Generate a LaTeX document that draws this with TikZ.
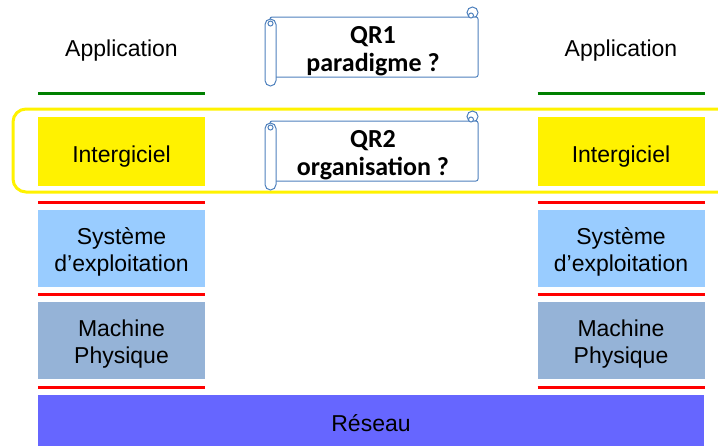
\documentclass[tikz,border=0pt]{standalone}
\usepackage{fontspec}
\setmainfont{Liberation Sans}
\newfontfamily\qrfont{Carlito}
\definecolor{osblue}{RGB}{153,204,255}
\definecolor{hwblue}{RGB}{149,179,215}
\definecolor{netblue}{RGB}{102,102,255}
\definecolor{apigreen}{RGB}{0,128,0}
\definecolor{scrollblue}{RGB}{79,129,189}
\newcommand{\toprow}{\rule{0pt}{23.5pt}}
\tikzset{
  layer/.style={minimum width=167pt, inner sep=0pt, align=center,
    font=\fontsize{23}{27}\selectfont},
  oneline/.style={text depth=0pt},
  iface/.style={line width=3pt},
  scrollpart/.style={draw=scrollblue, fill=white, line width=1pt},
  qrtext/.style={align=center, font=\qrfont\bfseries\fontsize{26}{28}\selectfont}
}
\begin{document}
\begin{tikzpicture}[x=1pt,y=-1pt]
  \clip (0,0) rectangle (718,445);
  % zone des questions de recherche
  \draw[yellow, line width=3pt, rounded corners=13pt] (13,109) rectangle (760,192);
  \foreach \qy/\qname/\qtext in {0/qra/{QR1\\paradigme ?}, 104/qrb/{QR2\\organisation ?}} {
    \begin{scope}[shift={(0,\qy)}]
      \draw[scrollpart] (472.5,12.5) circle (5.5);
      \draw[scrollpart, rounded corners=2pt] (270,17) rectangle (478,77);
      \draw[scrollpart] (471,15.5) circle (2.5);
      \draw[scrollpart, rounded corners=5.5pt] (265,19) rectangle (276,86);
      \draw[scrollpart] (270.5,23.5) circle (2.5);
      \node[qrtext] (\qname) at (373,51) {\qtext};
    \end{scope}
  }
  % les deux piles
  \foreach \s/\cx in {l/121.5, r/621} {
    \node[font=\fontsize{23}{27}\selectfont, anchor=base] (app\s) at (\cx,56) {Application};
    \draw[iface, apigreen] ({\cx-83.5},93) -- ({\cx+83.5},93);
    \node[layer, oneline, text height=21pt, fill=yellow, minimum height=69pt] (mw\s) at (\cx,151.5) {Intergiciel};
    \node[layer, fill=osblue, minimum height=77pt] (os\s) at (\cx,248.5) {\toprow Système\\d’exploitation};
    \node[layer, fill=hwblue, minimum height=77pt] (hw\s) at (\cx,340.5) {\toprow Machine\\Physique};
    \foreach \ly in {202,294,387}
      \draw[iface, red] ({\cx-83.5},\ly) -- ({\cx+83.5},\ly);
  }
  \node[layer, oneline, fill=netblue, minimum width=666pt, minimum height=57pt] (net) at (371,423.5) {Réseau};
\end{tikzpicture}
\end{document}
